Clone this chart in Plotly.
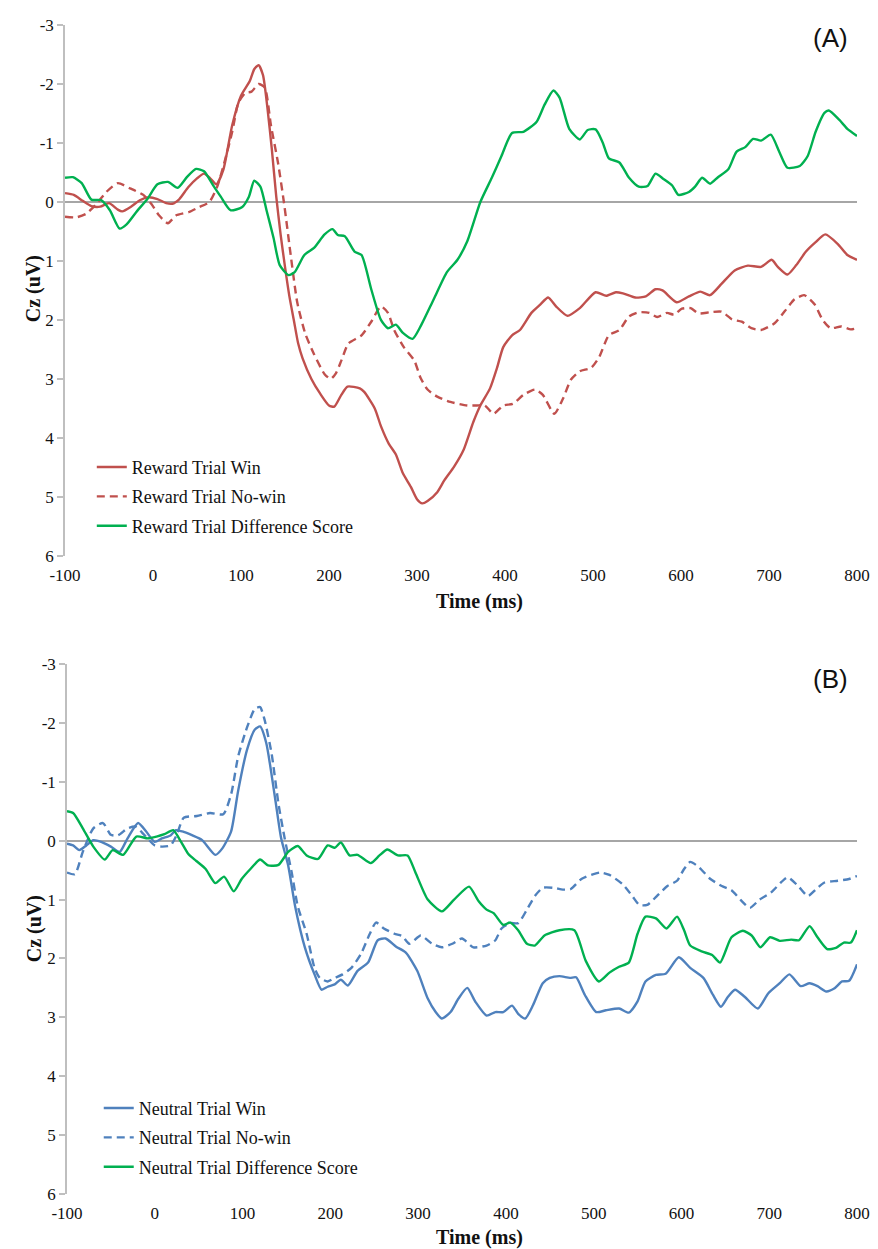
import plotly.graph_objects as go

# ---------------- data (Cz amplitude in uV, time in ms) ----------------
time_ticks = [-100, 0, 100, 200, 300, 400, 500, 600, 700, 800]
cz_ticks = [-3, -2, -1, 0, 1, 2, 3, 4, 5, 6]

a_win_t = [-100, -90, -80, -70, -60, -50, -40, -35, -25, -15, -5, 5, 15, 22, 30, 40, 50, 58, 65, 72, 80, 90, 100, 110, 115, 120, 125, 130, 135, 140, 145, 150, 155, 160, 165, 170, 180, 190, 200, 206, 214, 221, 235, 240, 252, 259, 268, 276, 284, 293, 300, 306, 312, 323, 331, 342, 353, 364, 372, 383, 391, 398, 408, 417, 430, 440, 449, 458, 471, 485, 503, 515, 526, 534, 548, 560, 571, 579, 595, 609, 622, 633, 646, 661, 676, 691, 703, 710, 721, 731, 742, 753, 764, 778, 789, 800]
a_win_v = [-0.15, -0.12, -0.02, 0.07, 0.08, 0.02, 0.13, 0.16, 0.08, -0.03, -0.08, -0.05, 0.02, 0.03, -0.05, -0.25, -0.4, -0.48, -0.4, -0.3, -0.55, -1.3, -1.8, -2.05, -2.25, -2.32, -2.15, -1.6, -0.9, -0.1, 0.55, 1.1, 1.6, 2.0, 2.4, 2.65, 3.0, 3.25, 3.45, 3.47, 3.27, 3.13, 3.16, 3.22, 3.5, 3.8, 4.1, 4.28, 4.6, 4.83, 5.04, 5.11, 5.07, 4.92, 4.72, 4.49, 4.2, 3.73, 3.45, 3.16, 2.81, 2.46, 2.26, 2.17, 1.88, 1.74, 1.62, 1.77, 1.93, 1.8, 1.53, 1.59, 1.53, 1.55, 1.62, 1.6, 1.48, 1.5, 1.7, 1.6, 1.52, 1.58, 1.39, 1.16, 1.08, 1.1, 0.98, 1.1, 1.23, 1.07, 0.84, 0.68, 0.55, 0.71, 0.9, 0.98]

a_nowin_t = [-100, -87, -76, -64, -53, -40, -26, -11, -2, 7, 17, 26, 41, 52, 64, 73, 82, 90, 97, 105, 112, 120, 127, 134, 142, 149, 157, 164, 173, 183, 195, 202, 208, 214, 222, 237, 248, 259, 267, 274, 285, 297, 304, 312, 323, 338, 357, 368, 377, 387, 398, 409, 421, 434, 443, 456, 466, 475, 485, 498, 507, 518, 530, 541, 552, 564, 573, 584, 592, 601, 611, 620, 633, 646, 658, 669, 680, 691, 706, 718, 729, 740, 752, 761, 770, 782, 793, 800]
a_nowin_v = [0.25, 0.26, 0.2, 0.03, -0.17, -0.32, -0.23, -0.12, 0.03, 0.23, 0.36, 0.23, 0.17, 0.09, 0.0, -0.26, -0.72, -1.19, -1.68, -1.85, -1.87, -2.0, -1.94, -1.3, -0.67, 0.03, 0.96, 1.71, 2.23, 2.58, 2.92, 3.0, 2.9, 2.69, 2.4, 2.26, 2.03, 1.77, 1.88, 2.17, 2.46, 2.69, 2.98, 3.18, 3.3, 3.39, 3.45, 3.45, 3.45, 3.59, 3.45, 3.42, 3.27, 3.18, 3.27, 3.59, 3.33, 3.01, 2.87, 2.81, 2.63, 2.26, 2.17, 1.94, 1.87, 1.88, 1.95, 1.88, 1.91, 1.81, 1.8, 1.89, 1.87, 1.86, 1.99, 2.03, 2.14, 2.17, 2.06, 1.85, 1.65, 1.58, 1.74, 2.0, 2.14, 2.11, 2.16, 2.14]

a_diff_t = [-100, -91, -81, -70, -59, -49, -38, -30, -19, -6, 5, 17, 28, 39, 49, 58, 68, 77, 88, 101, 109, 115, 122, 129, 137, 144, 154, 161, 172, 183, 195, 204, 210, 218, 229, 237, 248, 259, 267, 276, 284, 295, 304, 319, 334, 346, 357, 372, 385, 396, 408, 421, 436, 445, 455, 462, 473, 485, 494, 503, 511, 518, 530, 541, 552, 562, 571, 580, 590, 597, 609, 616, 624, 633, 642, 654, 663, 673, 682, 691, 702, 712, 721, 735, 744, 753, 763, 768, 780, 789, 800]
a_diff_v = [-0.41, -0.42, -0.32, -0.04, -0.03, 0.14, 0.45, 0.38, 0.17, -0.06, -0.3, -0.34, -0.24, -0.43, -0.56, -0.52, -0.29, -0.09, 0.14, 0.09, -0.09, -0.36, -0.26, 0.14, 0.61, 1.07, 1.24, 1.19, 0.9, 0.78, 0.55, 0.46, 0.56, 0.58, 0.84, 0.9, 1.48, 2.0, 2.14, 2.08, 2.22, 2.32, 2.11, 1.65, 1.19, 0.98, 0.67, 0.0, -0.41, -0.78, -1.17, -1.19, -1.36, -1.65, -1.89, -1.77, -1.24, -1.06, -1.22, -1.23, -1.01, -0.74, -0.67, -0.41, -0.26, -0.27, -0.48, -0.39, -0.28, -0.12, -0.17, -0.26, -0.41, -0.31, -0.42, -0.56, -0.85, -0.93, -1.07, -1.04, -1.14, -0.84, -0.58, -0.61, -0.78, -1.19, -1.51, -1.55, -1.39, -1.24, -1.12]

b_win_t = [-100, -93, -86, -78, -70, -61, -50, -40, -31, -19, -10, 0, 8, 18, 24, 33, 43, 54, 69, 77, 87, 95, 105, 114, 120, 127, 137, 144, 152, 160, 171, 182, 190, 197, 205, 212, 220, 231, 243, 254, 263, 275, 286, 299, 311, 320, 327, 337, 346, 356, 365, 378, 388, 397, 407, 414, 422, 431, 442, 450, 461, 473, 480, 490, 503, 514, 529, 540, 550, 559, 571, 582, 597, 610, 625, 636, 645, 653, 661, 672, 687, 699, 712, 723, 736, 746, 755, 765, 774, 783, 791, 800]
b_win_v = [0.05, 0.08, 0.16, 0.08, -0.01, 0.02, 0.1, 0.19, -0.04, -0.3, -0.16, 0.02, -0.04, -0.09, -0.18, -0.15, -0.09, -0.01, 0.24, 0.13, -0.16, -0.85, -1.54, -1.89, -1.94, -1.66, -0.73, -0.04, 0.42, 1.12, 1.81, 2.27, 2.53, 2.48, 2.44, 2.36, 2.46, 2.21, 2.07, 1.69, 1.66, 1.8, 1.9, 2.21, 2.68, 2.91, 3.02, 2.91, 2.68, 2.5, 2.73, 2.97, 2.91, 2.91, 2.8, 2.94, 3.02, 2.79, 2.42, 2.33, 2.3, 2.33, 2.32, 2.62, 2.91, 2.88, 2.85, 2.92, 2.73, 2.39, 2.28, 2.26, 1.98, 2.16, 2.33, 2.62, 2.82, 2.65, 2.53, 2.65, 2.85, 2.59, 2.42, 2.27, 2.47, 2.42, 2.47, 2.56, 2.51, 2.39, 2.38, 2.1]

b_nowin_t = [-100, -91, -82, -70, -59, -50, -42, -31, -22, -12, 0, 8, 18, 25, 33, 48, 63, 78, 87, 95, 105, 114, 120, 125, 133, 141, 148, 156, 163, 173, 182, 188, 197, 205, 214, 224, 235, 245, 252, 261, 273, 282, 290, 303, 316, 327, 339, 350, 363, 378, 388, 395, 405, 414, 424, 433, 442, 454, 465, 474, 486, 499, 508, 518, 533, 544, 552, 561, 572, 584, 595, 603, 610, 620, 633, 646, 657, 669, 678, 689, 702, 714, 721, 733, 744, 753, 763, 778, 791, 800]
b_nowin_v = [0.54, 0.57, 0.19, -0.21, -0.3, -0.1, -0.09, -0.21, -0.24, -0.1, 0.08, 0.1, 0.08, -0.1, -0.39, -0.42, -0.47, -0.45, -0.79, -1.43, -1.92, -2.24, -2.27, -2.06, -1.49, -0.62, -0.04, 0.54, 1.12, 1.58, 2.16, 2.33, 2.39, 2.33, 2.27, 2.16, 1.92, 1.58, 1.39, 1.49, 1.58, 1.62, 1.75, 1.61, 1.75, 1.81, 1.75, 1.66, 1.81, 1.78, 1.69, 1.49, 1.4, 1.4, 1.17, 0.94, 0.8, 0.8, 0.83, 0.82, 0.65, 0.57, 0.54, 0.58, 0.74, 0.94, 1.09, 1.09, 0.94, 0.77, 0.68, 0.48, 0.36, 0.45, 0.65, 0.77, 0.84, 1.03, 1.14, 1.0, 0.88, 0.7, 0.62, 0.77, 0.94, 0.83, 0.71, 0.68, 0.65, 0.6]

b_diff_t = [-100, -93, -82, -70, -57, -48, -36, -21, -8, 2, 11, 21, 30, 38, 47, 58, 69, 79, 90, 99, 109, 120, 129, 141, 152, 163, 173, 186, 197, 205, 212, 222, 231, 246, 256, 265, 277, 288, 297, 311, 327, 341, 358, 369, 378, 386, 397, 405, 414, 424, 433, 444, 461, 478, 491, 506, 518, 529, 540, 550, 559, 571, 583, 595, 603, 610, 623, 635, 644, 657, 670, 680, 690, 701, 712, 725, 734, 746, 755, 766, 776, 785, 793, 800]
b_diff_v = [-0.5, -0.47, -0.21, 0.1, 0.32, 0.16, 0.24, -0.07, -0.04, -0.07, -0.11, -0.18, 0.02, 0.22, 0.34, 0.48, 0.72, 0.61, 0.86, 0.65, 0.48, 0.32, 0.42, 0.41, 0.19, 0.09, 0.25, 0.31, 0.08, 0.12, 0.03, 0.25, 0.24, 0.38, 0.25, 0.15, 0.25, 0.25, 0.54, 1.0, 1.2, 1.0, 0.78, 1.03, 1.17, 1.23, 1.43, 1.39, 1.52, 1.75, 1.78, 1.61, 1.52, 1.52, 2.04, 2.39, 2.24, 2.14, 2.07, 1.58, 1.29, 1.32, 1.49, 1.29, 1.52, 1.78, 1.88, 1.94, 2.07, 1.64, 1.53, 1.61, 1.81, 1.64, 1.7, 1.68, 1.69, 1.45, 1.64, 1.84, 1.82, 1.73, 1.73, 1.52]

# ---------------- styling ----------------
RED = "#C0504D"
BLUE = "#4F81BD"
GREEN = "#00B050"
AXIS_GRAY = "#BFBFBF"
ZERO_GRAY = "#A6A6A6"
SERIF = "Liberation Serif"
TXT = "#111111"
LW = 2.4

fig = go.Figure()


def add(t, v, name, color, dash, xa, ya, legend, group):
    fig.add_trace(go.Scatter(
        x=t, y=v, name=name, mode="lines",
        line=dict(color=color, width=LW, dash=dash, shape="spline", smoothing=0.6),
        xaxis=xa, yaxis=ya, legend=legend, legendgroup=group, showlegend=True,
    ))


add(a_win_t, a_win_v, "Reward Trial Win", RED, "solid", "x", "y", "legend", "a1")
add(a_nowin_t, a_nowin_v, "Reward Trial No-win", RED, "8px,5px", "x", "y", "legend", "a2")
add(a_diff_t, a_diff_v, "Reward Trial Difference Score", GREEN, "solid", "x", "y", "legend", "a3")
add(b_win_t, b_win_v, "Neutral Trial Win", BLUE, "solid", "x2", "y2", "legend2", "b1")
add(b_nowin_t, b_nowin_v, "Neutral Trial No-win", BLUE, "8px,5px", "x2", "y2", "legend2", "b2")
add(b_diff_t, b_diff_v, "Neutral Trial Difference Score", GREEN, "solid", "x2", "y2", "legend2", "b3")

# The page body adds an 8 px offset; the figure is sized so that screen
# coordinates (sx, sy) line up with the reference picture.
OFF = 8
W, H = 878 - OFF, 1249 - OFF
ML, MR, MT, MB = 65 - OFF, 15, 16 - OFF, 55
ph = H - MT - MB
pw = W - ML - MR


def px(sx):
    return (sx - OFF - ML) / pw


def py(sy):
    return (H - MB - (sy - OFF)) / ph


xaxis_common = dict(
    range=[-100, 800], tickvals=time_ticks, ticktext=[str(v) for v in time_ticks],
    showgrid=False, zeroline=False, showline=False, ticks="",
    tickfont=dict(family=SERIF, size=17, color=TXT), ticklabelstandoff=7,
)
yaxis_common = dict(
    range=[6, -3], tickvals=cz_ticks, ticktext=[str(v) for v in cz_ticks],
    showgrid=False, zeroline=True, zerolinecolor=ZERO_GRAY, zerolinewidth=1.5,
    showline=True, linecolor=AXIS_GRAY, linewidth=1.5,
    ticks="outside", ticklen=6, tickcolor=AXIS_GRAY, tickwidth=1.5,
    tickfont=dict(family=SERIF, size=17, color=TXT),
)

fig.update_layout(
    width=W, height=H,
    margin=dict(l=ML, r=MR, t=MT, b=MB),
    paper_bgcolor="white", plot_bgcolor="white",
    xaxis=dict(domain=[0, 1], anchor="y", **xaxis_common),
    yaxis=dict(domain=[py(551), py(16)], anchor="x", **yaxis_common),
    xaxis2=dict(domain=[px(67), 1], anchor="y2", **xaxis_common),
    yaxis2=dict(domain=[py(1194), py(660)], anchor="x2", **yaxis_common),
    legend=dict(
        x=px(92), y=py(443), xanchor="left", yanchor="top",
        bgcolor="rgba(0,0,0,0)", font=dict(family=SERIF, size=18, color=TXT),
        tracegroupgap=3, itemwidth=30,
    ),
    legend2=dict(
        x=px(99), y=py(1089), xanchor="left", yanchor="top",
        bgcolor="rgba(0,0,0,0)", font=dict(family=SERIF, size=18, color=TXT),
        tracegroupgap=3, itemwidth=30,
    ),
    showlegend=True,
)

title_font = dict(family=SERIF, size=20, color=TXT)
label_font = dict(family="Liberation Sans", size=26, color=TXT)


def note(text, sx, sy, font, angle=0):
    return dict(text=text, x=px(sx), y=py(sy), xref="paper", yref="paper",
                xanchor="center", yanchor="middle", textangle=angle,
                showarrow=False, font=font)


fig.update_layout(annotations=[
    note("<b>Cz (uV)</b>", 34, 282, title_font, -90),
    note("<b>Cz (uV)</b>", 34, 927, title_font, -90),
    note("<b>Time (ms)</b>", 483, 597, title_font),
    note("<b>Time (ms)</b>", 483, 1238, title_font),
    note("(A)", 836, 29, label_font),
    note("(B)", 836, 675, label_font),
])

fig.write_html("out.html")
